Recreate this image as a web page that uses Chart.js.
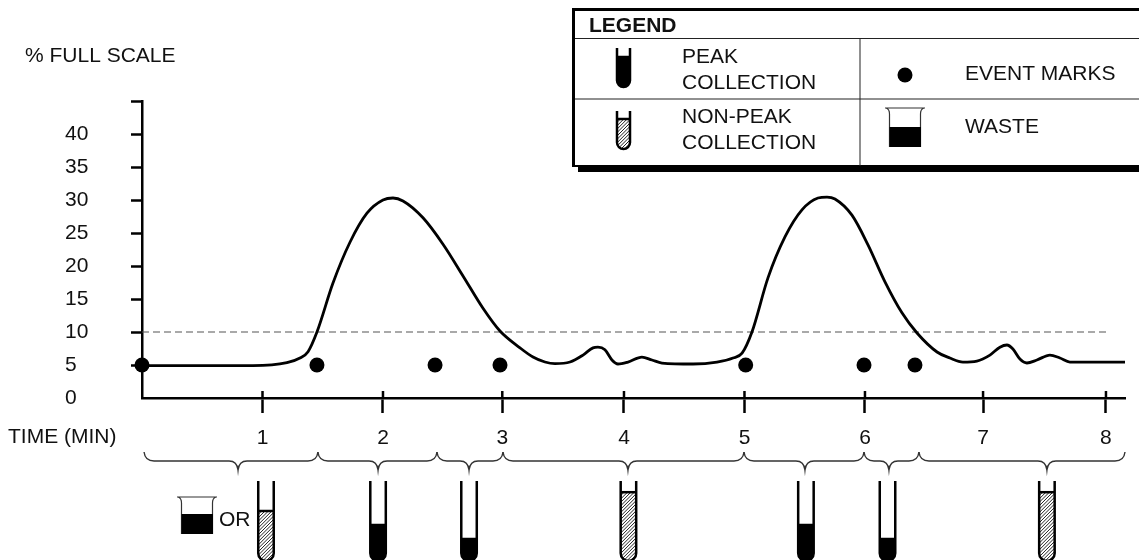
<!DOCTYPE html>
<html>
<head>
<meta charset="utf-8">
<title>% full scale</title>
<script src="https://cdn.jsdelivr.net/npm/chart.js@4"></script>
<style>
html, body { margin: 0; padding: 0; background: #fff; overflow: hidden; }
canvas { display: block; }
</style>
</head>
<body>
<canvas id="myChart" width="1139" height="560"></canvas>
<script>
// detector trace (minutes / % full scale)
var curveTimes = [0, 0.921, 1.203, 1.311, 1.378, 1.452, 1.585, 1.726, 1.867, 2.0, 2.083, 2.166, 2.332, 2.498, 2.664,
    2.83, 2.971, 3.137, 3.245, 3.344, 3.427, 3.552, 3.66, 3.743, 3.784, 3.842, 3.9, 3.95, 4.033, 4.149,
    4.232, 4.315, 4.573, 4.772, 4.905, 4.98, 5.062, 5.195, 5.336, 5.477, 5.61, 5.685, 5.751, 5.892, 6.025,
    6.166, 6.307, 6.432, 6.598, 6.705, 6.813, 6.929, 7.037, 7.12, 7.178, 7.228, 7.286, 7.344, 7.427, 7.535,
    7.618, 7.701, 8.158];
var curveValues = [4.9, 4.9, 5.35, 6.06, 7.02, 10, 17.42, 23.6, 28, 30, 30.3, 29.85, 27.3, 23.3, 18.5,
    13.6, 10.15, 7.6, 6.2, 5.45, 5.2, 5.45, 6.5, 7.6, 7.7, 7.3, 5.76, 5.15, 5.45, 6.2,
    5.76, 5.3, 5.15, 5.45, 6.06, 6.8, 10, 18.2, 24.4, 28.5, 30.3, 30.45, 30.15, 27.7, 23.2,
    17.6, 12.9, 9.85, 6.97, 6.06, 5.45, 5.6, 6.5, 7.7, 8.03, 7.42, 5.9, 5.3, 5.76, 6.5,
    6.06, 5.45, 5.45];
var eventTimes = [0, 1.452, 2.432, 2.971, 5.01, 5.992, 6.415];
var eventValues = [5, 5, 5, 5, 5, 5, 5];
var thresholdTimes = [0, 8.03];
var thresholdValues = [10, 10];

var yTickLabels = ['0', '5', '10', '15', '20', '25', '30', '35', '40', ''];
var xTickValues = [1, 2, 2.99, 4, 5, 6, 6.98, 8];
var xTickLabels = ['1', '2', '3', '4', '5', '6', '7', '8'];

// collection windows under the axis
var braceEdges = [0.017, 1.46, 2.448, 2.996, 4.996, 5.992, 6.448, 8.158];
var braceCusps = [0.797, 1.959, 2.714, 4.033, 5.502, 6.199, 7.51];
var tubeTimes = [1.029, 1.959, 2.714, 4.037, 5.51, 6.187, 7.51];
var tubeFills = [0.625, 0.45, 0.275, 0.86, 0.45, 0.275, 0.86];
var tubeKinds = ['nonpeak', 'peak', 'peak', 'nonpeak', 'peak', 'peak', 'nonpeak'];

var FONT = '"Liberation Sans", Arial, sans-serif';

function drawTube(ctx, cx, top, bottom, fillTop, kind, w) {
    var r = w / 2;
    var outline = function () {
        ctx.beginPath();
        ctx.moveTo(cx - r, top);
        ctx.lineTo(cx - r, bottom - r);
        ctx.arc(cx, bottom - r, r, Math.PI, 0, true);
        ctx.lineTo(cx + r, top);
    };
    ctx.save();
    outline();
    ctx.save();
    ctx.clip();
    ctx.beginPath();
    ctx.rect(cx - r, fillTop, w, bottom - fillTop);
    ctx.clip();
    if (kind === 'peak') {
        ctx.fillStyle = '#000';
        ctx.fillRect(cx - r, fillTop, w, bottom - fillTop);
    } else {
        ctx.strokeStyle = '#222';
        ctx.lineWidth = 1;
        ctx.beginPath();
        for (var d = fillTop - w; d < bottom + w; d += 3.4) {
            ctx.moveTo(cx - r, d + w);
            ctx.lineTo(cx + r, d);
        }
        ctx.stroke();
    }
    ctx.restore();
    outline();
    ctx.strokeStyle = '#000';
    ctx.lineWidth = 2.5;
    ctx.stroke();
    ctx.beginPath();
    ctx.moveTo(cx - r, fillTop);
    ctx.lineTo(cx + r, fillTop);
    ctx.stroke();
    ctx.restore();
}

function drawBeaker(ctx, x, top, fillTop, bottom) {
    ctx.save();
    ctx.strokeStyle = '#333';
    ctx.lineWidth = 1.2;
    ctx.beginPath();
    ctx.moveTo(x, top);
    ctx.lineTo(x + 40, top);
    ctx.moveTo(x + 1, top);
    ctx.quadraticCurveTo(x + 4.5, top + 1, x + 4.5, top + 6);
    ctx.lineTo(x + 4.5, bottom);
    ctx.moveTo(x + 39, top);
    ctx.quadraticCurveTo(x + 35.5, top + 1, x + 35.5, top + 6);
    ctx.lineTo(x + 35.5, bottom);
    ctx.stroke();
    ctx.fillStyle = '#000';
    ctx.fillRect(x + 4.5, fillTop, 31.5, bottom - fillTop);
    ctx.restore();
}

function drawBrace(ctx, x0, c, x1) {
    ctx.beginPath();
    ctx.moveTo(x0, 452);
    ctx.quadraticCurveTo(x0 + 1, 461, x0 + 10, 461);
    ctx.lineTo(c - 9, 461);
    ctx.quadraticCurveTo(c - 1, 461, c, 470);
    ctx.quadraticCurveTo(c + 1, 461, c + 9, 461);
    ctx.lineTo(x1 - 10, 461);
    ctx.quadraticCurveTo(x1 - 1, 461, x1, 452);
    ctx.stroke();
}

function drawLegend(ctx) {
    ctx.save();
    ctx.fillStyle = '#000';
    ctx.fillRect(578, 166, 561, 6);
    ctx.fillRect(572, 8, 567, 3);
    ctx.fillRect(572, 8, 3, 159);
    ctx.fillRect(572, 165, 567, 2);
    ctx.fillStyle = '#222';
    ctx.fillRect(575, 38, 564, 1);
    ctx.fillRect(575, 98.5, 564, 1);
    ctx.fillRect(859.5, 39, 1, 127);

    drawTube(ctx, 623.5, 48, 87, 57, 'peak', 13);
    drawTube(ctx, 623.5, 111, 149, 119, 'nonpeak', 13);
    drawBeaker(ctx, 885, 108, 127, 147);
    ctx.fillStyle = '#000';
    ctx.beginPath();
    ctx.arc(905, 75, 7.5, 0, Math.PI * 2);
    ctx.fill();

    ctx.fillStyle = '#111';
    ctx.textBaseline = 'middle';
    ctx.textAlign = 'left';
    ctx.font = 'bold 21px ' + FONT;
    ctx.fillText('LEGEND', 589, 26);
    ctx.font = '21px ' + FONT;
    ctx.fillText('PEAK', 682, 57);
    ctx.fillText('COLLECTION', 682, 83);
    ctx.fillText('NON-PEAK', 682, 117);
    ctx.fillText('COLLECTION', 682, 143);
    ctx.fillText('EVENT MARKS', 965, 74);
    ctx.fillText('WASTE', 965, 127);
    ctx.restore();
}

var extras = {
    id: 'extras',
    afterDraw: function (chart) {
        var ctx = chart.ctx;
        var x = chart.scales.x;
        var y = chart.scales.y;

        // x ticks poke a little above the axis
        ctx.save();
        ctx.strokeStyle = '#000';
        ctx.lineWidth = 2.5;
        xTickValues.forEach(function (v) {
            ctx.beginPath();
            ctx.moveTo(x.getPixelForValue(v), y.getPixelForValue(0));
            ctx.lineTo(x.getPixelForValue(v), y.getPixelForValue(0) - 7);
            ctx.stroke();
        });
        ctx.restore();

        ctx.save();
        ctx.fillStyle = '#111';
        ctx.font = '21px ' + FONT;
        ctx.textBaseline = 'middle';
        ctx.textAlign = 'left';
        ctx.fillText('% FULL SCALE', 25, 56);
        ctx.fillText('TIME (MIN)', 8, 437);
        ctx.fillText('OR', 219, 520);
        ctx.restore();

        ctx.save();
        ctx.strokeStyle = '#333';
        ctx.lineWidth = 1.4;
        braceCusps.forEach(function (c, i) {
            drawBrace(ctx, x.getPixelForValue(braceEdges[i]), x.getPixelForValue(c), x.getPixelForValue(braceEdges[i + 1]));
        });
        ctx.restore();

        tubeTimes.forEach(function (t, i) {
            var top = 481, bottom = 561;
            var fillTop = bottom - (bottom - top) * tubeFills[i];
            drawTube(ctx, x.getPixelForValue(t), top, bottom, fillTop, tubeKinds[i], 15.5);
        });
        drawBeaker(ctx, 177, 497, 514, 534);
        drawLegend(ctx);
    }
};

var toPoints = function (xs, ys) {
    return xs.map(function (v, i) { return { x: v, y: ys[i] }; });
};

var ctx = document.getElementById('myChart').getContext('2d');
Chart.defaults.font.family = FONT;
Chart.defaults.font.size = 21;
Chart.defaults.color = '#111';

var chart = new Chart(ctx, {
    type: 'line',
    data: {
        datasets: [{
            label: 'Signal',
            data: toPoints(curveTimes, curveValues),
            borderColor: '#000',
            borderWidth: 2.8,
            cubicInterpolationMode: 'monotone',
            pointRadius: 0,
            order: 2,
        }, {
            label: 'Threshold',
            data: toPoints(thresholdTimes, thresholdValues),
            borderColor: '#555',
            borderWidth: 1.2,
            borderDash: [7, 4],
            pointRadius: 0,
            order: 3,
        }, {
            label: 'Event marks',
            data: toPoints(eventTimes, eventValues),
            showLine: false,
            pointRadius: 7.5,
            pointBackgroundColor: '#000',
            pointBorderWidth: 0,
            clip: false,
            order: 1,
        }],
    },
    options: {
        responsive: false,
        animation: false,
        devicePixelRatio: 1,
        layout: { padding: { left: 65, right: 14, top: 101, bottom: 102 } },
        plugins: { legend: { display: false }, tooltip: { enabled: false }, title: { display: false } },
        scales: {
            x: {
                type: 'linear',
                min: 0,
                max: 8.158,
                afterBuildTicks: function (scale) {
                    scale.ticks = xTickValues.map(function (v) { return { value: v }; });
                },
                afterFit: function (scale) { scale.height = 60; },
                border: { color: '#000', width: 2.5 },
                grid: { drawOnChartArea: false, tickLength: 15, tickColor: '#000', tickWidth: 2.5 },
                ticks: {
                    autoSkip: false,
                    maxRotation: 0,
                    padding: 13,
                    callback: function (v) { return xTickLabels[xTickValues.indexOf(v)]; },
                },
            },
            y: {
                min: 0,
                max: 45,
                afterFit: function (scale) { scale.width = 77; },
                border: { color: '#000', width: 2.5 },
                grid: {
                    drawOnChartArea: false,
                    tickLength: 11,
                    tickWidth: 2.5,
                    tickColor: function (c) { return c.tick && c.tick.value === 0 ? 'rgba(0,0,0,0)' : '#000'; },
                },
                ticks: {
                    stepSize: 5,
                    crossAlign: 'far',
                    callback: function (v) { return yTickLabels[v / 5]; },
                },
            },
        },
    },
    plugins: [extras],
});
</script>
</body>
</html>
